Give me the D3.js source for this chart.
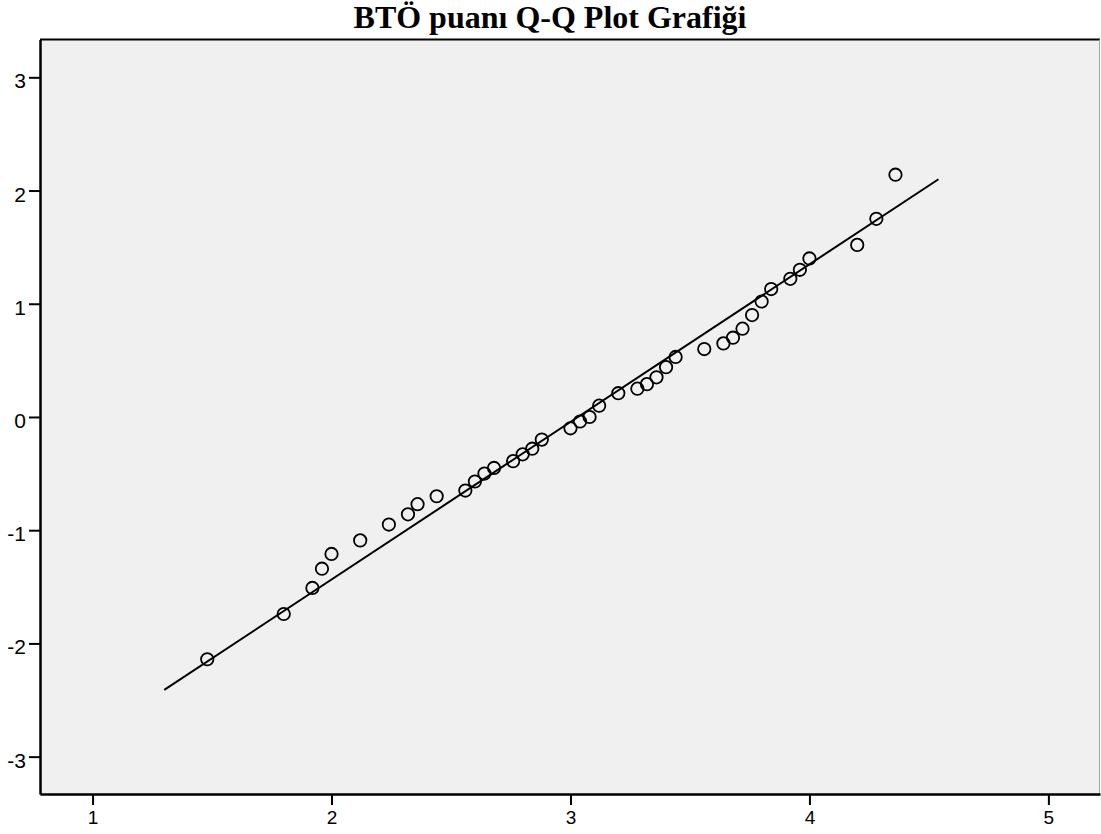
<!DOCTYPE html>
<html>
<head>
<meta charset="utf-8">
<script src="https://cdn.jsdelivr.net/npm/d3@7"></script>
<style>
  body { margin: 0; background: #fff; }
  .tick text { font-family: "Liberation Sans", Arial, sans-serif; fill: #000; }
  .tick line { stroke: #000; stroke-width: 2; }
</style>
</head>
<body>
<svg id="svg" width="1101" height="834"></svg>
<script>
// observed values (BTÖ puanı) and expected normal values
var puan = [1.48, 1.80, 1.92, 1.96, 2.00, 2.12, 2.24, 2.32, 2.36, 2.44,
  2.56, 2.60, 2.64, 2.68, 2.76, 2.80, 2.84, 2.88, 3.00, 3.04,
  3.08, 3.12, 3.20, 3.28, 3.32, 3.36, 3.40, 3.44, 3.56, 3.64,
  3.68, 3.72, 3.76, 3.80, 3.84, 3.92, 3.96, 4.00, 4.20, 4.28, 4.36];
var beklenen = [-2.14, -1.74, -1.51, -1.34, -1.21, -1.09, -0.95, -0.86, -0.77, -0.70,
  -0.65, -0.57, -0.50, -0.45, -0.39, -0.33, -0.28, -0.20, -0.10, -0.04,
  0.00, 0.10, 0.21, 0.25, 0.29, 0.35, 0.44, 0.53, 0.60, 0.65,
  0.70, 0.78, 0.90, 1.02, 1.13, 1.22, 1.30, 1.40, 1.52, 1.75, 2.14];

// reference line end points
var lineX = [1.30, 4.54];
var lineY = [-2.41, 2.10];

var xTicks = [1, 2, 3, 4, 5];
var yTicks = [-3, -2, -1, 0, 1, 2, 3];
var title = "BTÖ puanı Q-Q Plot Grafiği";

var svg = d3.select("#svg");
// plot box edges (window.top is reserved, so use own names)
var boxLeft = 40, boxRight = 1100, boxTop = 39.5, boxBottom = 794;

var xScale = d3.scaleLinear().domain([0.78, 5.216]).range([boxLeft, boxRight]);
var yScale = d3.scaleLinear().domain([-3.33, 3.334]).range([boxBottom, boxTop]);

// plain hyphen for negatives, like the original
var fmt = d => String(d);

// plot background
svg.append("rect")
  .attr("x", boxLeft)
  .attr("y", boxTop)
  .attr("width", boxRight - boxLeft)
  .attr("height", boxBottom - boxTop)
  .attr("fill", "#f0f0f0");

// top and right frame
svg.append("line")
  .attr("x1", boxLeft).attr("y1", boxTop).attr("x2", boxRight).attr("y2", boxTop)
  .attr("stroke", "#000").attr("stroke-width", 2);
svg.append("line")
  .attr("x1", boxRight - 0.5).attr("y1", boxTop).attr("x2", boxRight - 0.5).attr("y2", boxBottom)
  .attr("stroke", "#a8a8a8").attr("stroke-width", 1);

// axes
var xAxis = svg.append("g")
  .attr("transform", `translate(0, ${boxBottom})`)
  .call(d3.axisBottom(xScale).tickValues(xTicks).tickFormat(fmt)
    .tickSize(11).tickSizeOuter(0).tickPadding(6));
xAxis.selectAll("text").attr("font-size", 19).style("font-size", "19px");
xAxis.select(".domain").attr("stroke", "#000").attr("stroke-width", 2.5);

var yAxis = svg.append("g")
  .attr("transform", `translate(${boxLeft}, 0)`)
  .call(d3.axisLeft(yScale).tickValues(yTicks).tickFormat(fmt)
    .tickSize(11).tickSizeOuter(0).tickPadding(3));
yAxis.selectAll("text")
  .style("font-size", "21px")
  .attr("dy", "0.5em");
yAxis.select(".domain").attr("stroke", "#000").attr("stroke-width", 2.5);

// reference line
svg.append("line")
  .attr("x1", xScale(lineX[0]))
  .attr("y1", yScale(lineY[0]))
  .attr("x2", xScale(lineX[1]))
  .attr("y2", yScale(lineY[1]))
  .attr("stroke", "#000")
  .attr("stroke-width", 2);

// points
svg.selectAll(".nokta")
  .data(puan)
  .enter()
  .append("circle")
  .attr("class", "nokta")
  .attr("cx", d => xScale(d))
  .attr("cy", (d, i) => yScale(beklenen[i]))
  .attr("r", 6.2)
  .attr("fill", "none")
  .attr("stroke", "#000")
  .attr("stroke-width", 1.8);

// title
svg.append("text")
  .attr("x", 550)
  .attr("y", 27.5)
  .attr("text-anchor", "middle")
  .style("font-family", "'Liberation Serif', 'Times New Roman', serif")
  .style("font-weight", "bold")
  .style("font-size", "32px")
  .text(title);
</script>
</body>
</html>
